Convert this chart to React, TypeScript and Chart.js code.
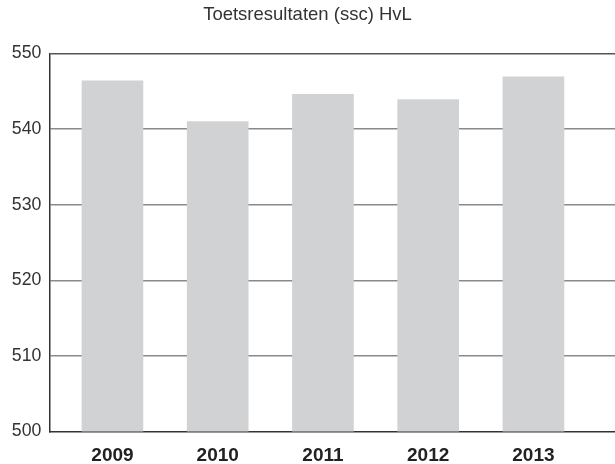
import React, { useEffect, useRef } from "react";
import { Chart, registerables } from "chart.js";

Chart.register(...registerables);

const years = ["2009", "2010", "2011", "2012", "2013"];
const scores = [546.4, 541.0, 544.6, 543.9, 546.9];
const yTicks = [500, 510, 520, 530, 540, 550];
const title = "Toetsresultaten (ssc) HvL";

export default function App() {
  const ref = useRef<HTMLCanvasElement | null>(null);
  useEffect(() => {
    if (!ref.current) return;
    const chart = new Chart(ref.current, {
      type: "bar",
      data: {
        datasets: [
          {
            data: scores.map((v, i) => ({ x: i, y: v })),
            backgroundColor: "#d1d2d4",
            borderWidth: 0,
            barThickness: 61,
          },
        ],
      },
      options: {
        animation: false,
        responsive: false,
        maintainAspectRatio: false,
        layout: { padding: { top: 0, right: 0, bottom: 0, left: 0 } },
        plugins: {
          legend: { display: false },
          tooltip: { enabled: false },
          title: {
            display: true,
            text: title,
            color: "#333333",
            font: { family: "'Liberation Sans', Arial, sans-serif", size: 18.5, weight: "normal" },
            padding: { top: 4, bottom: 27.3 },
          },
        },
        scales: {
          x: {
            type: "linear",
            offset: false,
            min: -0.6,
            max: 4.775,
            afterBuildTicks: (scale: any) => {
              scale.ticks = years.map((_, i) => ({ value: i }));
            },
            afterFit: (scale: any) => {
              scale.height = 32.5;
            },
            ticks: {
              callback: (v: any) => years[v as number] ?? "",
              color: "#222222",
              font: { family: "'Liberation Sans', Arial, sans-serif", size: 19, weight: "bold" },
              padding: 13,
              maxRotation: 0,
              autoSkip: false,
            },
            grid: { display: false, drawTicks: false, offset: false },
            border: { display: true, color: "#333333", width: 1.5 },
          },
          y: {
            min: 500,
            max: 550,
            afterBuildTicks: (scale: any) => {
              scale.ticks = yTicks.map((v) => ({ value: v }));
            },
            afterFit: (scale: any) => {
              scale.width = 49.3;
            },
            ticks: {
              color: "#333333",
              font: { family: "'Liberation Sans', Arial, sans-serif", size: 17.7 },
              padding: 8,
            },
            grid: {
              drawTicks: false,
              color: (ctx: any) =>
                ctx.tick && ctx.tick.value === 550 ? "#555555" : ctx.tick && ctx.tick.value === 500 ? "rgba(0,0,0,0)" : "#8a8a8a",
              lineWidth: 1.5,
            },
            border: { display: true, color: "#333333", width: 1.5 },
          },
        },
      },
    });
    return () => chart.destroy();
  }, []);
  return (
    <div style={{ position: "fixed", left: 0, top: 0, width: 615, height: 464, background: "#ffffff" }}>
      <canvas ref={ref} width={615} height={464} style={{ width: 615, height: 464, display: "block" }} />
    </div>
  );
}
